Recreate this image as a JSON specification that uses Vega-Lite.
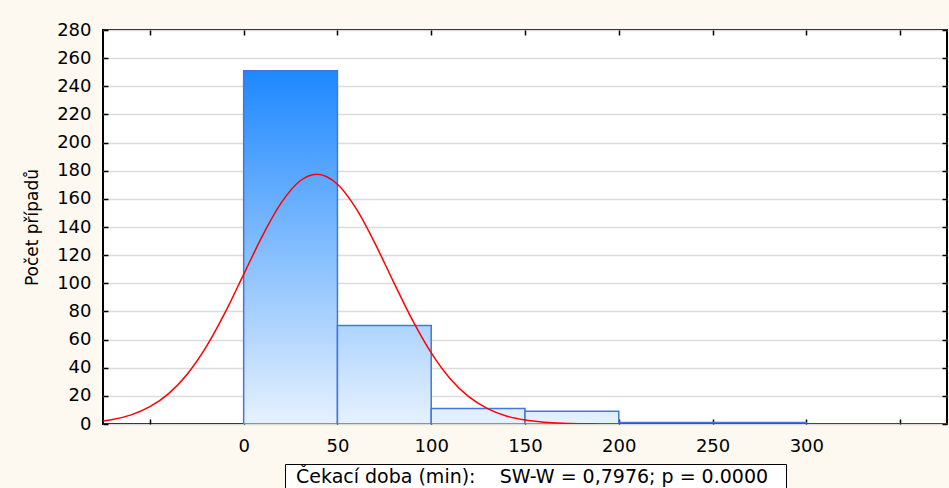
{
  "$schema": "https://vega.github.io/schema/vega-lite/v6.json",
  "width": 844,
  "height": 394,
  "autosize": {"type": "none"},
  "padding": {"left": 103, "top": 30, "right": 2, "bottom": 64},
  "background": "#fdf9f0",
  "config": {
    "view": {"stroke": "#000000", "strokeWidth": 2, "fill": "#ffffff"},
    "font": "DejaVu Sans",
    "axis": {
      "labelFont": "DejaVu Sans",
      "labelFontSize": 18,
      "labelColor": "#000000",
      "titleFont": "DejaVu Sans",
      "titleFontSize": 17,
      "titleFontWeight": "normal",
      "titleColor": "#000000",
      "tickColor": "#000000",
      "tickWidth": 1.5,
      "domain": false
    }
  },
  "datasets": {
    "bins": [
      {"bin_start": 0, "bin_end": 50, "count": 251},
      {"bin_start": 50, "bin_end": 100, "count": 70},
      {"bin_start": 100, "bin_end": 150, "count": 11},
      {"bin_start": 150, "bin_end": 200, "count": 9},
      {"bin_start": 200, "bin_end": 250, "count": 1},
      {"bin_start": 250, "bin_end": 300, "count": 1}
    ],
    "curve": [
      {"x": -75, "y": 2.2},
      {"x": -70, "y": 3.2},
      {"x": -60, "y": 6.5},
      {"x": -50, "y": 12.3},
      {"x": -40, "y": 21.6},
      {"x": -30, "y": 35.6},
      {"x": -20, "y": 54.8},
      {"x": -10, "y": 79},
      {"x": 0, "y": 106.3},
      {"x": 10, "y": 133.7},
      {"x": 20, "y": 157.1},
      {"x": 30, "y": 172.7},
      {"x": 39, "y": 177.5},
      {"x": 50, "y": 170.4},
      {"x": 60, "y": 153},
      {"x": 70, "y": 128.4},
      {"x": 80, "y": 100.7},
      {"x": 90, "y": 73.8},
      {"x": 100, "y": 50.6},
      {"x": 110, "y": 32.4},
      {"x": 120, "y": 19.4},
      {"x": 130, "y": 10.9},
      {"x": 140, "y": 5.7},
      {"x": 150, "y": 2.8},
      {"x": 160, "y": 1.3},
      {"x": 170, "y": 0.5},
      {"x": 180, "y": 0.2},
      {"x": 190, "y": 0.08},
      {"x": 200, "y": 0.03},
      {"x": 250, "y": 0},
      {"x": 300, "y": 0},
      {"x": 375, "y": 0}
    ]
  },
  "layer": [
    {
      "data": {"name": "bins"},
      "mark": {"type": "bar", "stroke": "#4477dd", "strokeWidth": 1.5, "clip": true},
      "encoding": {
        "x": {
          "field": "bin_start",
          "type": "quantitative",
          "scale": {"domain": [-75, 375], "nice": false, "zero": false},
          "axis": {
            "orient": "bottom",
            "values": [-50, 0, 50, 100, 150, 200, 250, 300, 350],
            "labelExpr": "datum.value < 0 || datum.value > 300 ? '' : datum.label",
            "tickSize": -5,
            "labelPadding": 18,
            "grid": false,
            "title": null
          }
        },
        "x2": {"field": "bin_end"},
        "y": {
          "field": "count",
          "type": "quantitative",
          "scale": {"domain": [0, 280], "nice": false},
          "axis": {
            "orient": "left",
            "values": [0, 20, 40, 60, 80, 100, 120, 140, 160, 180, 200, 220, 240, 260, 280],
            "tickSize": -5,
            "labelPadding": 17,
            "grid": true,
            "gridColor": "#dcdcdc",
            "gridWidth": 1.5,
            "title": "Počet případů",
            "titlePadding": 15
          }
        },
        "y2": {"datum": 0},
        "fill": {
          "condition": [
            {"test": "datum.count > 100", "value": {"gradient": "linear", "x1": 0, "y1": 0, "x2": 0, "y2": 1, "stops": [{"offset": 0, "color": "#1e88ff"}, {"offset": 1, "color": "#e6f1fd"}]}},
            {"test": "datum.count > 30", "value": {"gradient": "linear", "x1": 0, "y1": 0, "x2": 0, "y2": 1, "stops": [{"offset": 0, "color": "#aed4fe"}, {"offset": 1, "color": "#e6f1fd"}]}}
          ],
          "value": {"gradient": "linear", "x1": 0, "y1": 0, "x2": 0, "y2": 1, "stops": [{"offset": 0, "color": "#deedfd"}, {"offset": 1, "color": "#e6f1fd"}]}
        }
      }
    },
    {
      "data": {"name": "curve"},
      "mark": {"type": "line", "interpolate": "monotone", "strokeWidth": 1.5, "clip": true},
      "encoding": {
        "x": {
          "field": "x",
          "type": "quantitative",
          "axis": {
            "orient": "top",
            "values": [-50, 0, 50, 100, 150, 200, 250, 300, 350],
            "labels": false,
            "tickSize": -5,
            "grid": false,
            "title": null
          }
        },
        "y": {
          "field": "y",
          "type": "quantitative",
          "axis": {
            "orient": "right",
            "values": [0, 20, 40, 60, 80, 100, 120, 140, 160, 180, 200, 220, 240, 260, 280],
            "labels": false,
            "tickSize": -5,
            "grid": false,
            "title": null
          }
        },
        "stroke": {
          "datum": "Čekací doba (min):\u00a0\u00a0\u00a0\u00a0SW-W = 0,7976; p = 0.0000\u2800",
          "type": "nominal",
          "scale": {"range": ["#ff0000"]},
          "legend": {
            "orient": "none",
            "legendX": 182,
            "legendY": 434,
            "title": null,
            "strokeColor": "#000000",
            "fillColor": "#ffffff",
            "padding": 3,
            "symbolType": "circle",
            "symbolSize": 0,
            "symbolStrokeWidth": 0,
            "symbolOpacity": 0,
            "labelOffset": -11,
            "labelFont": "DejaVu Sans",
            "labelFontSize": 19,
            "labelColor": "#000000",
            "labelLimit": 0
          }
        }
      }
    }
  ],
  "resolve": {"axis": {"x": "independent", "y": "independent"}}
}
